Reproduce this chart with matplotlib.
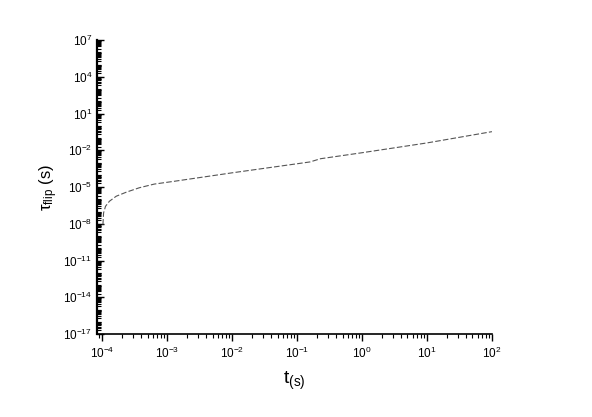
import numpy as np
import matplotlib
matplotlib.use("Agg")
import matplotlib.pyplot as plt
from matplotlib.ticker import LogLocator, NullFormatter

plt.rcParams['font.family'] = ['Liberation Sans', 'DejaVu Sans']
plt.rcParams['mathtext.fontset'] = 'custom'
plt.rcParams['mathtext.rm'] = 'Liberation Sans'
plt.rcParams['mathtext.it'] = 'Liberation Sans:italic'

# values (log10 of t and of tau_flip)
log_t = [-3.99, -3.98, -3.95, -3.89, -3.785, -3.63, -3.43, -3.2, -2.89,
         -2.0, -1.0, -0.8, -0.64, 0.0, 1.0, 2.0]
log_tau = [-8.07, -7.11, -6.57, -6.16, -5.75, -5.42, -5.06, -4.76, -4.53,
           -3.84, -3.1, -2.95, -2.69, -2.2, -1.4, -0.48]

t = 10.0 ** np.array(log_t)
tau = 10.0 ** np.array(log_tau)

x_exp = list(range(-4, 3))
y_exp = list(range(-17, 8, 3))

fig = plt.figure(figsize=(5.92, 4.17), dpi=100)
ax = fig.add_axes([0.164, 0.199, 0.667, 0.705])

ax.plot(t, tau, color='#555555', lw=0.8, ls=(0, (5, 2)))

ax.set_xscale('log')
ax.set_yscale('log')
ax.set_xlim(10 ** -4.08, 1e2)
ax.set_ylim(1e-17, 1e7)

ax.set_xticks([10.0 ** k for k in x_exp])
ax.set_xticklabels([r'$\mathregular{10^{%d}}$' % k for k in x_exp])
ax.xaxis.set_minor_locator(LogLocator(base=10, subs=np.arange(2, 10), numticks=50))
ax.xaxis.set_minor_formatter(NullFormatter())

ax.set_yticks([10.0 ** k for k in y_exp])
ax.set_yticklabels([r'$\mathregular{10^{%d}}$' % k for k in y_exp])
ax.yaxis.set_minor_locator(LogLocator(base=10, subs=np.arange(1, 10), numticks=100))
ax.yaxis.set_minor_formatter(NullFormatter())

for s in ['top', 'right']:
    ax.spines[s].set_visible(False)
ax.spines['left'].set_linewidth(1.6)
ax.spines['bottom'].set_linewidth(1.2)

ax.tick_params(axis='x', which='major', direction='out', length=5, width=1, labelsize=8.5)
ax.tick_params(axis='x', which='minor', direction='out', length=3, width=0.8)
ax.tick_params(axis='y', which='major', direction='in', length=5, width=1, labelsize=8.5)
ax.tick_params(axis='y', which='minor', direction='in', length=3, width=0.8)

ax.set_xlabel(r'$\mathregular{t_{(s)}}$', fontsize=14, labelpad=6)
ax.set_ylabel(r'$\mathregular{\tau_{flip}}$ (s)', fontsize=12, labelpad=2)

fig.savefig('out.png', dpi=100)
